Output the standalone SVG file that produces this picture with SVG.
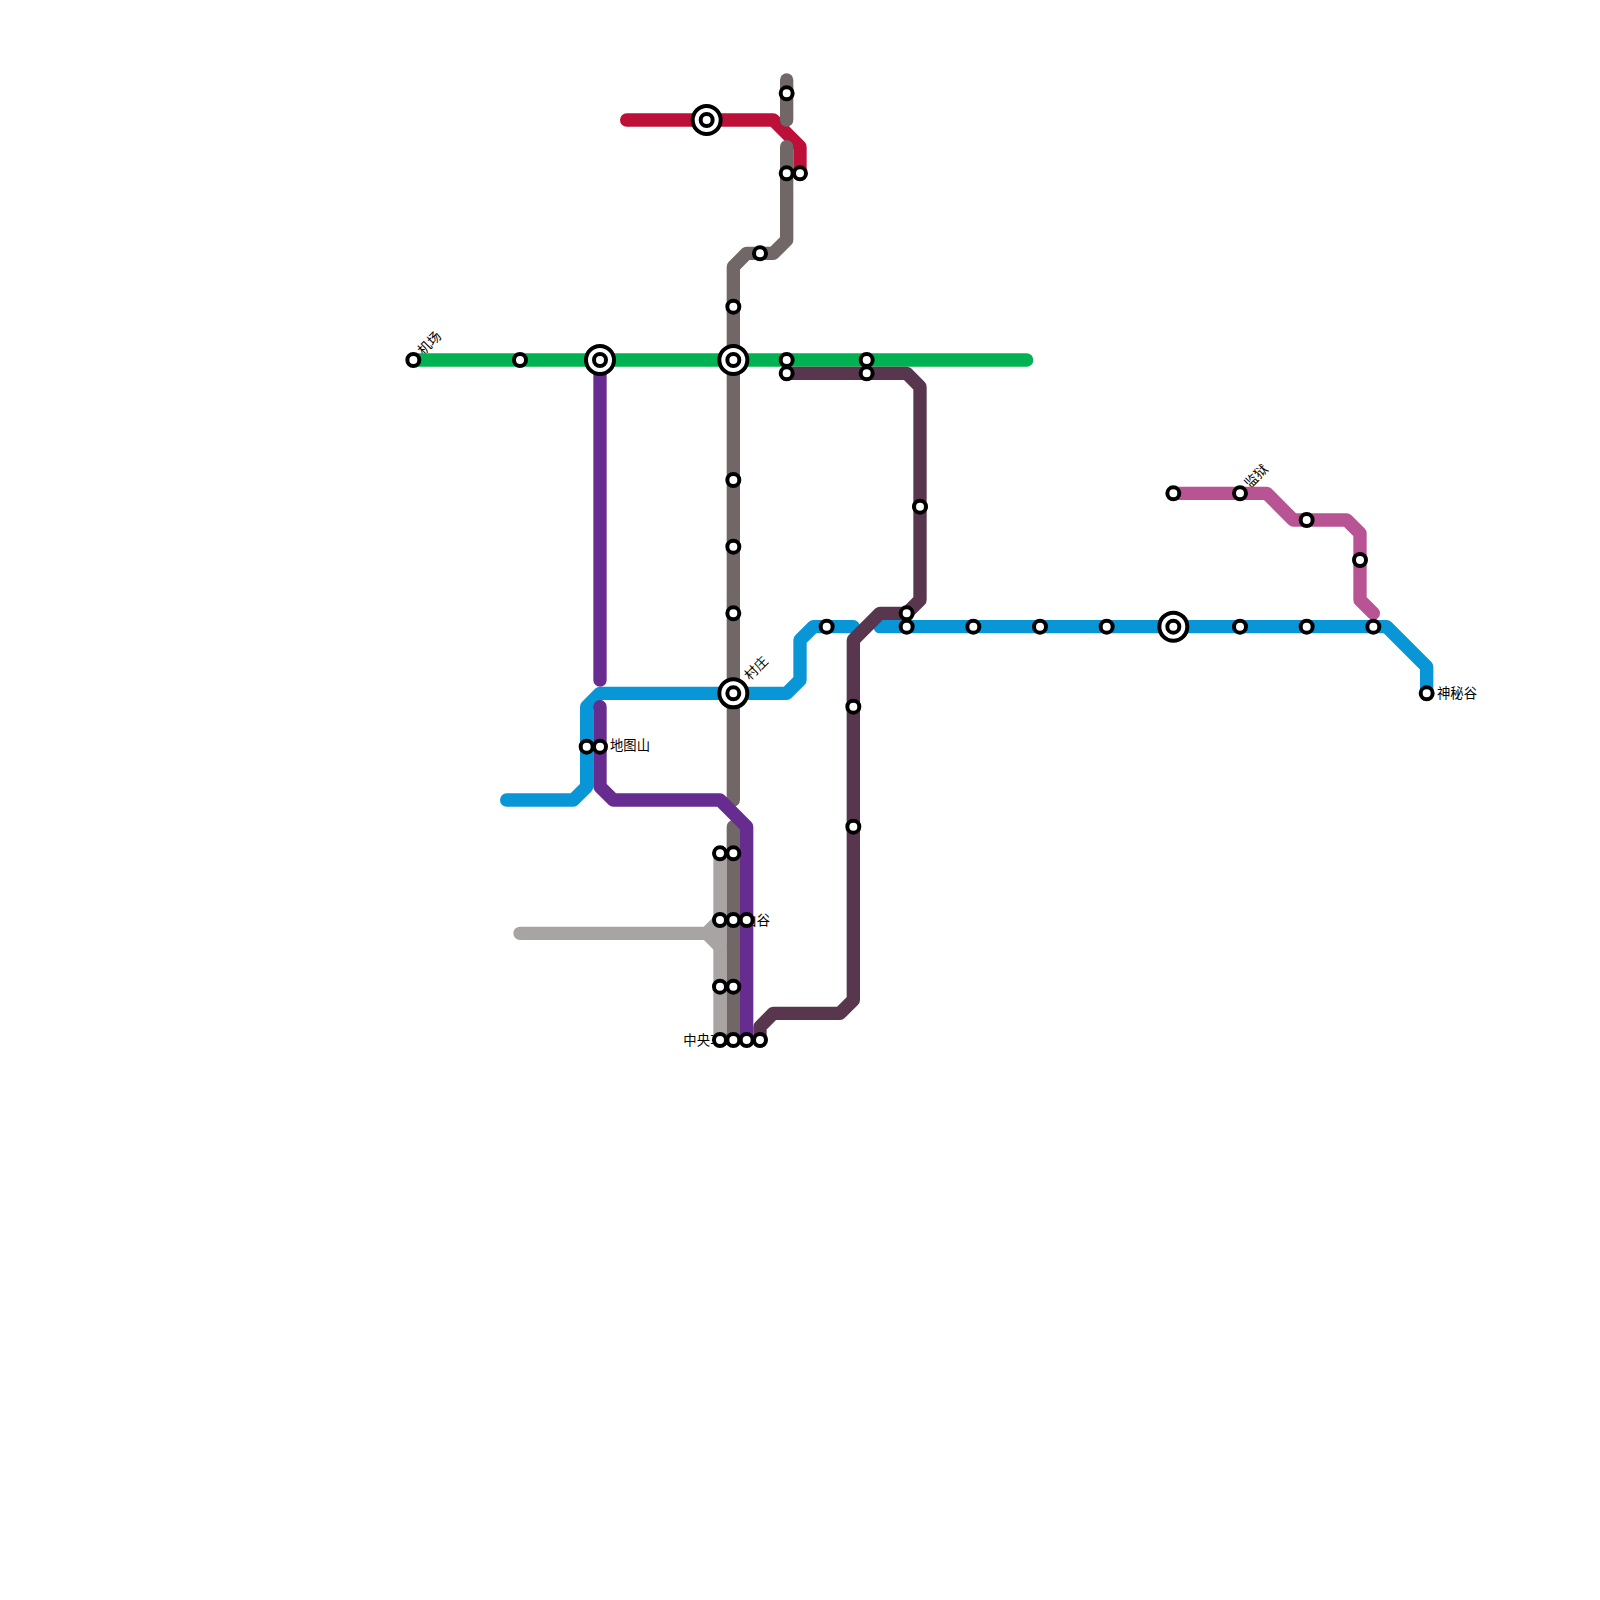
<svg xmlns="http://www.w3.org/2000/svg" width="1600" height="1600" viewBox="0 0 1600 1600">
<style>
.l{fill:none;stroke-width:13.33;stroke-linecap:round;stroke-linejoin:round}
.st{fill:#fff;stroke:#000;stroke-width:4}
.ring{fill:#fff;stroke:#000;stroke-width:4}
.t{font-family:"Noto Sans CJK SC","Liberation Sans",sans-serif;font-size:13.33px;fill:#000}
</style>
<defs>
<circle id="s" class="st" r="6"/>
<g id="x"><circle class="ring" r="14"/><circle class="ring" r="6"/></g>
</defs>
<rect width="1600" height="1600" fill="#fff"/>
<g id="labels">
<text class="t" transform="translate(423.33,356) rotate(-45)">机场</text>
<text class="t" x="610" y="750">地图山</text>
<text class="t" transform="translate(750,681) rotate(-45)">村庄</text>
<text class="t" transform="translate(1250,489) rotate(-45)">监狱</text>
<text class="t" x="1437" y="698">神秘谷</text>
<text class="t" x="743.33" y="924.5">山谷</text>
<text class="t" x="736.67" y="1044.5" text-anchor="end">中央车站</text>
</g>
<g id="connectors">
<path class="l" stroke="#00b251" d="M413.33 360H1026.67"/>
<path class="l" stroke="#bd1038" d="M626.67 120H773.33L800 146.67V173.33"/>
<path class="l" stroke="#a8a4a4" d="M720 853.33V1040"/>
<path class="l" stroke="#a8a4a4" d="M520 933.33H706.67L720 920M706.67 933.33L720 946.67"/>
<path class="l" stroke="#706766" d="M786.67 80V120"/>
<path class="l" stroke="#706766" d="M786.67 146.67V240L773.33 253.33H746.67L733.33 266.67V800"/>
<path class="l" stroke="#706766" d="M733.33 826.67V1040"/>
<path class="l" stroke="#0896d7" d="M506.67 800H573.33L586.67 786.67V706.67L600 693.33H786.67L800 680V640L813.33 626.67H853.33"/>
<path class="l" stroke="#662c90" d="M600 360V680"/>
<path class="l" stroke="#662c90" d="M600 706.67V786.67L613.33 800H720L746.67 826.67V1040"/>
<path class="l" stroke="#0896d7" d="M880 626.67H1386.67L1426.67 666.67V693.33"/>
<path class="l" stroke="#58374e" d="M786.67 373.33H906.67L920 386.67V600L906.67 613.33H880L853.33 640V1000L840 1013.33H773.33L760 1026.67V1040"/>
<path class="l" stroke="#b85493" d="M1173.33 493.33H1266.67L1293.33 520H1346.67L1360 533.33V600L1373.33 613.33"/>
</g>
<g id="stations">
<use href="#s" x="413.33" y="360"/><use href="#s" x="520" y="360"/><use href="#x" x="600" y="360"/><use href="#x" x="733.33" y="360"/><use href="#s" x="786.67" y="360"/><use href="#s" x="866.67" y="360"/>
<use href="#s" x="786.67" y="373.33"/><use href="#s" x="866.67" y="373.33"/>
<use href="#x" x="706.67" y="120"/><use href="#s" x="786.67" y="93.33"/><use href="#s" x="786.67" y="173.33"/><use href="#s" x="800" y="173.33"/><use href="#s" x="760" y="253.33"/>
<use href="#s" x="733.33" y="306.67"/><use href="#s" x="733.33" y="480"/><use href="#s" x="733.33" y="546.67"/><use href="#s" x="733.33" y="613.33"/><use href="#x" x="733.33" y="693.33"/>
<use href="#s" x="586.67" y="746.67"/><use href="#s" x="600" y="746.67"/>
<use href="#s" x="720" y="853.33"/><use href="#s" x="733.33" y="853.33"/>
<use href="#s" x="720" y="920"/><use href="#s" x="733.33" y="920"/><use href="#s" x="746.67" y="920"/>
<use href="#s" x="720" y="986.67"/><use href="#s" x="733.33" y="986.67"/>
<use href="#s" x="720" y="1040"/><use href="#s" x="733.33" y="1040"/><use href="#s" x="746.67" y="1040"/><use href="#s" x="760" y="1040"/>
<use href="#s" x="920" y="506.67"/><use href="#s" x="906.67" y="613.33"/><use href="#s" x="906.67" y="626.67"/><use href="#s" x="853.33" y="706.67"/><use href="#s" x="853.33" y="826.67"/>
<use href="#s" x="826.67" y="626.67"/><use href="#s" x="973.33" y="626.67"/><use href="#s" x="1040" y="626.67"/><use href="#s" x="1106.67" y="626.67"/><use href="#x" x="1173.33" y="626.67"/><use href="#s" x="1240" y="626.67"/><use href="#s" x="1306.67" y="626.67"/><use href="#s" x="1373.33" y="626.67"/><use href="#s" x="1426.67" y="693.33"/>
<use href="#s" x="1173.33" y="493.33"/><use href="#s" x="1240" y="493.33"/><use href="#s" x="1306.67" y="520"/><use href="#s" x="1360" y="560"/>
</g>
</svg>
